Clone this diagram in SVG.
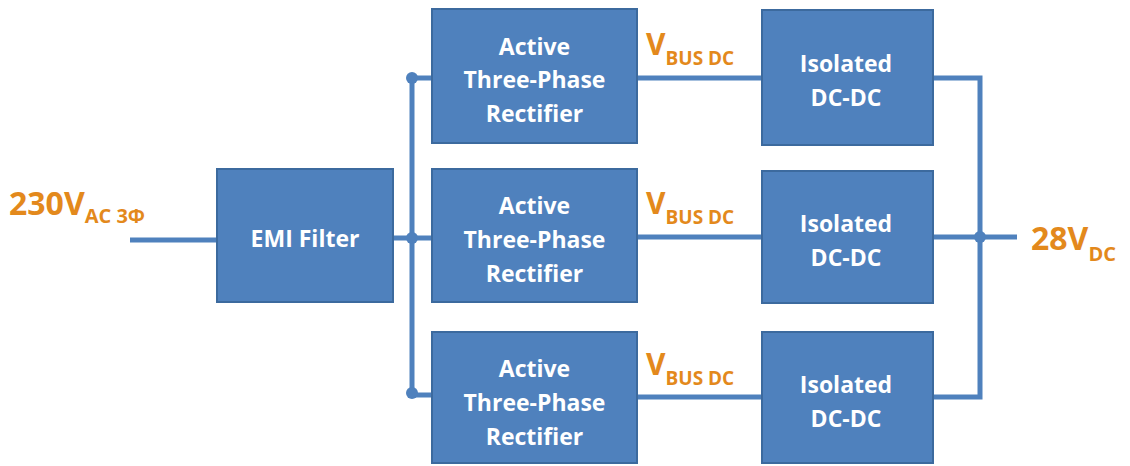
<svg xmlns="http://www.w3.org/2000/svg" width="1130" height="466" viewBox="0 0 1130 466">
<style>
.box{fill:#4F81BD;stroke:#3C6A9E;stroke-width:2}
.bt{fill:#FFFFFF;font-family:"Open Sans","Liberation Sans",sans-serif;font-weight:bold;font-size:23px;text-anchor:middle}
.wire{stroke:#4F81BD;stroke-width:5;fill:none}
.dot{fill:#4F81BD}
.lbl{fill:#E3891C;font-family:"Open Sans","Liberation Sans",sans-serif;font-weight:bold}
</style>
<rect width="1130" height="466" fill="#FFFFFF"/>
<g id="connectors">
<line class="wire" x1="130" y1="240" x2="217" y2="240"/>
<line class="wire" x1="393" y1="238" x2="432" y2="238"/>
<polyline class="wire" points="432,78 412,78 412,395 432,395"/>
<line class="wire" x1="637" y1="78" x2="762" y2="78"/>
<line class="wire" x1="637" y1="237" x2="762" y2="237"/>
<line class="wire" x1="637" y1="397" x2="762" y2="397"/>
<polyline class="wire" points="933,78 980,78 980,397 933,397"/>
<line class="wire" x1="933" y1="237" x2="1017" y2="237"/>
<circle class="dot" cx="412" cy="78" r="6"/>
<circle class="dot" cx="412" cy="238" r="6"/>
<circle class="dot" cx="412" cy="393" r="6"/>
<circle class="dot" cx="980" cy="237" r="6"/>
</g>
<g id="input-label">
<text class="lbl" x="9" y="215" font-size="32">230V<tspan font-size="20" dy="8">AC 3Φ</tspan></text>
</g>
<g id="emi">
<rect class="box" x="217" y="169" width="176" height="133"/>
<text class="bt" x="305" y="247">EMI Filter</text>
</g>
<g id="rect1">
<rect class="box" x="432" y="9" width="205" height="134"/>
<text class="bt" x="534.5" y="55">Active</text>
<text class="bt" x="534.5" y="88">Three-Phase</text>
<text class="bt" x="534.5" y="122">Rectifier</text>
</g>
<g id="rect2">
<rect class="box" x="432" y="169" width="205" height="133"/>
<text class="bt" x="534.5" y="214">Active</text>
<text class="bt" x="534.5" y="248">Three-Phase</text>
<text class="bt" x="534.5" y="282">Rectifier</text>
</g>
<g id="rect3">
<rect class="box" x="432" y="332" width="205" height="131"/>
<text class="bt" x="534.5" y="377">Active</text>
<text class="bt" x="534.5" y="411">Three-Phase</text>
<text class="bt" x="534.5" y="445">Rectifier</text>
</g>
<g id="iso1">
<rect class="box" x="762" y="10" width="171" height="135"/>
<text class="bt" x="846" y="72">Isolated</text>
<text class="bt" x="846" y="106">DC-DC</text>
</g>
<g id="iso2">
<rect class="box" x="762" y="171" width="171" height="132"/>
<text class="bt" x="846" y="232">Isolated</text>
<text class="bt" x="846" y="266">DC-DC</text>
</g>
<g id="iso3">
<rect class="box" x="762" y="332" width="171" height="131"/>
<text class="bt" x="846" y="393">Isolated</text>
<text class="bt" x="846" y="427">DC-DC</text>
</g>
<g id="vbus-labels">
<text class="lbl" x="646" y="55" font-size="30">V<tspan font-size="19" dy="10">BUS DC</tspan></text>
<text class="lbl" x="646" y="214" font-size="30">V<tspan font-size="19" dy="10">BUS DC</tspan></text>
<text class="lbl" x="646" y="375" font-size="30">V<tspan font-size="19" dy="10">BUS DC</tspan></text>
</g>
<g id="output-label">
<text class="lbl" x="1031" y="250" font-size="32">28V<tspan font-size="20" dy="11">DC</tspan></text>
</g>
</svg>
